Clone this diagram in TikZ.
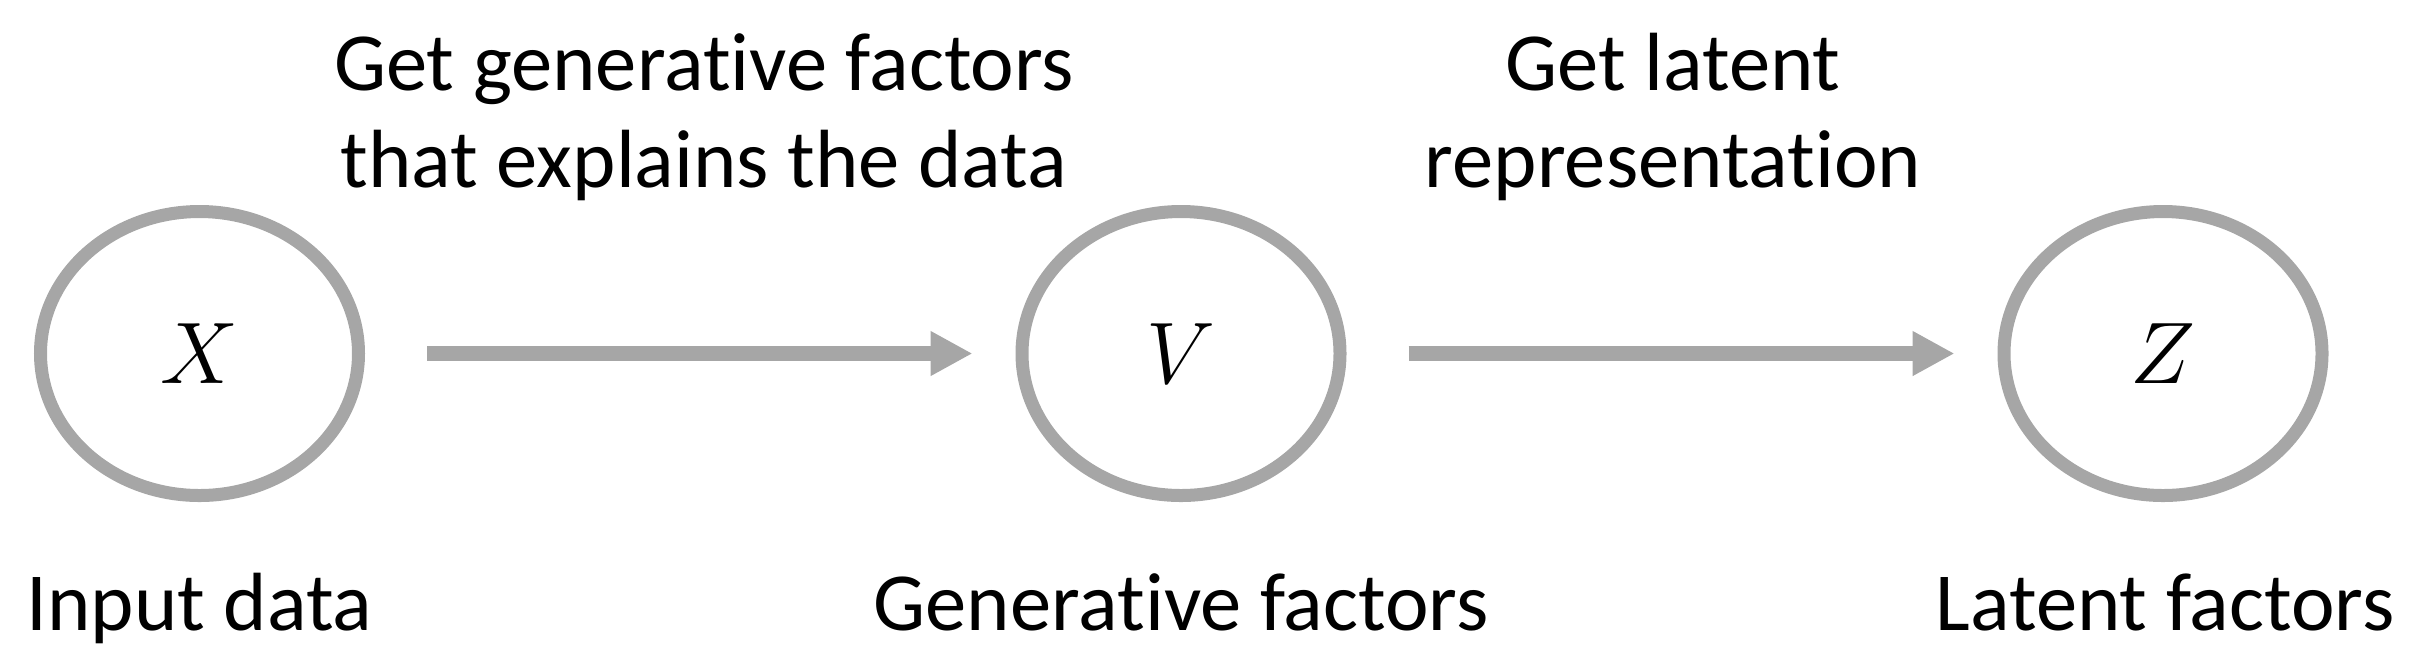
\documentclass[tikz,border=0pt]{standalone}
\usepackage{fontspec}
\setmainfont{Carlito}[Ligatures=NoCommon]
\usetikzlibrary{shapes.geometric,arrows.meta}
\definecolor{factorgray}{HTML}{A6A6A6}

\tikzset{
    var/.style={ellipse, draw=factorgray, line width=3.7pt, minimum width=3.18cm, minimum height=2.84cm, inner sep=0pt, font=\fontsize{28}{32}\selectfont},
    lbl/.style={anchor=base, align=center, font=\fontsize{23.5}{27.6}\selectfont},
    flow/.style={draw=factorgray, line width=4.3pt, -{Triangle[length=0.42cm,width=0.42cm]}, shorten <=0.62cm, shorten >=0.43cm}
}

\begin{document}
\begin{tikzpicture}
        \useasboundingbox (0,0) rectangle (24.22,-6.66);

        \node[var] (x) at (1.995, -3.535) {$X$};
        \node[var] (v) at (11.81, -3.535) {$V$};
        \node[var] (z) at (21.63, -3.535) {$Z$};

        \draw[flow] (x) -- (v);
        \draw[flow] (v) -- (z);

        % base anchor sits on the last line
        \node[lbl] (getgen) at (7.04, -1.87) {Get generative factors\\that explains the data};
        \node[lbl] (getlat) at (16.73, -1.87) {Get latent\\representation};

        \node[lbl] (input) at (1.995, -6.30) {Input data};
        \node[lbl] (gen) at (11.81, -6.30) {Generative factors};
        \node[lbl] (lat) at (21.65, -6.30) {Latent factors};

    \end{tikzpicture}
\end{document}
